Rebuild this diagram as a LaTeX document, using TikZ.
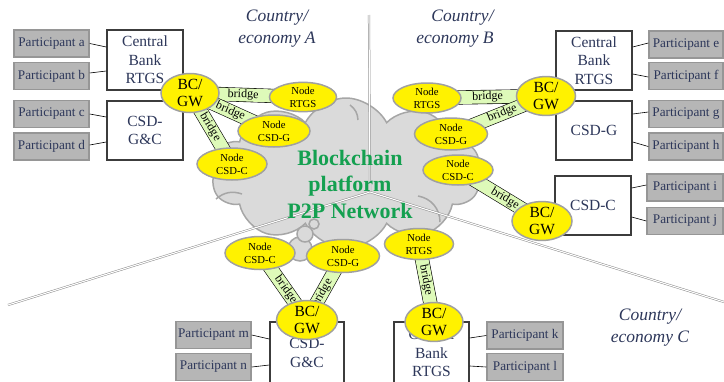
\documentclass[tikz,border=0pt]{standalone}
\usepackage{fontspec}
\setmainfont{Liberation Serif}
\usetikzlibrary{shapes.geometric,shapes.symbols}
\definecolor{textblue}{RGB}{45,55,90}
\definecolor{partfill}{RGB}{182,182,182}
\definecolor{partline}{RGB}{150,150,150}
\definecolor{instline}{RGB}{60,60,60}
\definecolor{ellline}{RGB}{160,160,160}
\definecolor{bridgegreen}{RGB}{222,250,185}
\definecolor{cloudfill}{RGB}{218,218,218}
\definecolor{cloudline}{RGB}{166,166,166}
\definecolor{chaingreen}{RGB}{20,160,80}
\definecolor{divline}{RGB}{140,140,140}
\begin{document}
\begin{tikzpicture}[x=1pt,y=-1pt,
  part/.style={draw=partline, fill=partfill, line width=1.5pt, minimum width=75pt, minimum height=27pt, inner sep=0pt, text=textblue, font=\fontsize{13.2}{15}\selectfont},
  inst/.style={draw=instline, fill=white, line width=1.5pt, minimum width=76pt, minimum height=59pt, inner sep=0pt, align=center, text=textblue, font=\fontsize{15.5}{18.5}\selectfont},
  gw/.style={ellipse, draw=ellline, fill=yellow, line width=1.5pt, inner sep=0pt, align=center, font=\fontsize{15.5}{17}\selectfont},
  nd/.style={ellipse, draw=ellline, fill=yellow, line width=1.5pt, inner sep=0pt, align=center, font=\fontsize{10.7}{13.2}\selectfont},
  country/.style={text=textblue, font=\itshape\fontsize{17.5}{22}\selectfont, align=center},
  divider/.style={draw=divline, line width=0.5pt, double=white, double distance=1.1pt},
  bridgeband/.style={draw=black, line width=0.6pt, double=bridgegreen, double distance=13pt},
  bridgelabel/.style={sloped, inner sep=0pt, font=\fontsize{12}{12}\selectfont},
  link/.style={draw=black, line width=0.6pt},
  bubble/.style={circle, draw=cloudline, fill=cloudfill, line width=1.5pt, inner sep=0pt},
  cloudarc/.style={draw=cloudline, line width=1.5pt}
]
\useasboundingbox (0,0) rectangle (724,381);

% cloud
\node[cloud, cloud puffs=10, cloud puff arc=125, aspect=1.75, minimum width=270pt, minimum height=150pt, inner sep=0pt, fill=cloudfill, draw=cloudline, line width=1.5pt] (cloud) at (346,173) {};
\draw[cloudarc] (216,199) to[bend left=30] (242,194);
\draw[cloudarc] (418,196) to[bend left=40] (440,222);
\draw[cloudarc] (350,105) to[bend left=25] (358,120);
\node[bubble, minimum size=24pt] (bub3) at (300,249) {};
\node[bubble, minimum size=16pt] (bub2) at (305,234) {};
\node[bubble, minimum size=10pt] (bub1) at (314,224) {};

% dividers
\coordinate (ctr) at (370,192);
\coordinate (topend) at (369,15);
\coordinate (leftend) at (8,305);
\coordinate (rightend) at (724,302);
\draw[divider] (ctr) -- (topend);
\draw[divider] (ctr) -- (leftend);
\draw[divider] (ctr) -- (rightend);

% central text
\node[text=chaingreen, font=\bfseries\fontsize{22}{26.5}\selectfont, align=center] (chain) at (350,184) {Blockchain\\platform\\P2P Network};

% country labels
\node[country] (ca) at (277,29) {Country/\\economy A};
\node[country, align=right] (cb) at (455,29) {Country/\\economy B};
\node[country] (cc) at (650,328) {Country/\\economy C};

% country A boxes
\node[part] (pa) at (51.5,43.5) {Participant a};
\node[part] (pb) at (51.5,76) {Participant b};
\node[part] (pc) at (51.5,114) {Participant c};
\node[part] (pd) at (51.5,146.5) {Participant d};
\node[inst, minimum height=60pt] (cbA) at (145,60) {Central\\Bank\\RTGS};
\node[inst] (csdA) at (145,130.5) {CSD-\\G\&C};
\draw[link] (pa.east) -- ([yshift=13pt]cbA.west);
\draw[link] ([yshift=3pt]pb.east) -- ([yshift=-11pt]cbA.west);
\draw[link] (pc.east) -- ([yshift=13.5pt]csdA.west);
\draw[link] ([yshift=1.5pt]pd.east) -- ([yshift=-11.5pt]csdA.west);

% country B boxes
\node[part, minimum width=74pt] (pe) at (686,44.5) {Participant e};
\node[part, minimum width=74pt] (pf) at (686,76) {Participant f};
\node[part, minimum width=74pt] (pg) at (686,114) {Participant g};
\node[part, minimum width=74pt] (ph) at (686,146.5) {Participant h};
\node[inst] (cbB) at (594,60.5) {Central\\Bank\\RTGS};
\node[inst] (csdgB) at (594,130.5) {CSD-G};
\node[inst] (csdcB) at (593,205.5) {CSD-C};
\node[part, minimum width=76pt] (pi) at (685,187.5) {Participant i};
\node[part, minimum width=76pt] (pj) at (685,221) {Participant j};
\draw[link] ([yshift=13.5pt]cbB.east) -- ([yshift=1.5pt]pe.west);
\draw[link] ([yshift=-13.5pt]cbB.east) -- ([yshift=-1pt]pf.west);
\draw[link] ([yshift=16.5pt]csdgB.east) -- ([yshift=2pt]pg.west);
\draw[link] ([yshift=-11.5pt]csdgB.east) -- (ph.west);
\draw[link] ([yshift=17.5pt]csdcB.east) -- ([yshift=2.5pt]pi.west);
\draw[link] ([yshift=-11.5pt]csdcB.east) -- (pj.west);

% bottom boxes
\node[part] (pm) at (213.5,335) {Participant m};
\node[part] (pn) at (213.5,367) {Participant n};
\node[inst, minimum width=74pt, minimum height=62pt] (csdC) at (307,353) {CSD-\\G\&C};
\node[inst, minimum width=75pt, minimum height=62pt] (cbC) at (431.5,353) {Central\\Bank\\RTGS};
\node[part, minimum width=76pt] (pk) at (525,335.5) {Participant k};
\node[part, minimum width=76pt] (pl) at (525,367) {Participant l};
\draw[link] (pm.east) -- ([yshift=14pt]csdC.west);
\draw[link] (pn.east) -- ([yshift=-12pt]csdC.west);
\draw[link] ([yshift=15pt]cbC.east) -- (pk.west);
\draw[link] ([yshift=-13pt]cbC.east) -- (pl.west);

% ellipse positions (coordinates for bridges)
\coordinate (gwAc) at (190,93);
\coordinate (rtgsAc) at (303,97);
\coordinate (csdgAc) at (274,131);
\coordinate (csdcAc) at (232,164);
\coordinate (gwBc) at (546,96);
\coordinate (rtgsBc) at (427,98);
\coordinate (csdgBc) at (451,134);
\coordinate (csdcBc) at (458,170);
\coordinate (gwB2c) at (542,221);
\coordinate (csdcCc) at (260,253);
\coordinate (csdgCc) at (343,256);
\coordinate (rtgsCc) at (419,244);
\coordinate (gwC1c) at (307,320);
\coordinate (gwC2c) at (434,322);

% bridges
\draw[bridgeband] (gwAc) -- node[bridgelabel, pos=0.47] {bridge} (rtgsAc);
\draw[bridgeband] (gwAc) -- node[bridgelabel, pos=0.48] {bridge} (csdgAc);
\draw[bridgeband] (gwAc) -- node[bridgelabel, pos=0.48] {bridge} (csdcAc);
\draw[bridgeband] (gwBc) -- node[bridgelabel, pos=0.49] {bridge} (rtgsBc);
\draw[bridgeband] (gwBc) -- node[bridgelabel, pos=0.46] {bridge} (csdgBc);
\draw[bridgeband] (csdcBc) -- node[bridgelabel, pos=0.56] {bridge} (gwB2c);
\draw[bridgeband] (csdcCc) -- node[bridgelabel, pos=0.55] {bridge} (gwC1c);
\draw[bridgeband] (csdgCc) -- node[bridgelabel, pos=0.58] {bridge} (gwC1c);
\draw[bridgeband] (rtgsCc) -- node[bridgelabel, pos=0.46] {bridge} (gwC2c);

% ellipses
\node[gw, minimum width=58pt, minimum height=39pt] (gwA) at (gwAc) {BC/\\GW};
\node[nd, minimum width=67pt, minimum height=29pt] (rtgsA) at (rtgsAc) {Node\\RTGS};
\node[nd, minimum width=72pt, minimum height=32pt] (csdgA) at (csdgAc) {Node\\CSD-G};
\node[nd, minimum width=70pt, minimum height=32pt] (csdcA) at (csdcAc) {Node\\CSD-C};
\node[gw, minimum width=59pt, minimum height=35pt] (gwB) at (gwBc) {BC/\\GW};
\node[nd, minimum width=68pt, minimum height=30pt] (rtgsB) at (rtgsBc) {Node\\RTGS};
\node[nd, minimum width=73pt, minimum height=32pt] (csdgB) at (csdgBc) {Node\\CSD-G};
\node[nd, minimum width=70pt, minimum height=30pt] (csdcBn) at (csdcBc) {Node\\CSD-C};
\node[gw, minimum width=60pt, minimum height=38pt] (gwB2) at (gwB2c) {BC/\\GW};
\node[nd, minimum width=70pt, minimum height=33pt] (csdcC) at (csdcCc) {Node\\CSD-C};
\node[nd, minimum width=73pt, minimum height=33pt] (csdgC) at (csdgCc) {Node\\CSD-G};
\node[nd, minimum width=69pt, minimum height=31pt] (rtgsC) at (rtgsCc) {Node\\RTGS};
\node[gw, minimum width=61pt, minimum height=37pt] (gwC1) at (gwC1c) {BC/\\GW};
\node[gw, minimum width=58pt, minimum height=35pt] (gwC2) at (gwC2c) {BC/\\GW};
\end{tikzpicture}
\end{document}
